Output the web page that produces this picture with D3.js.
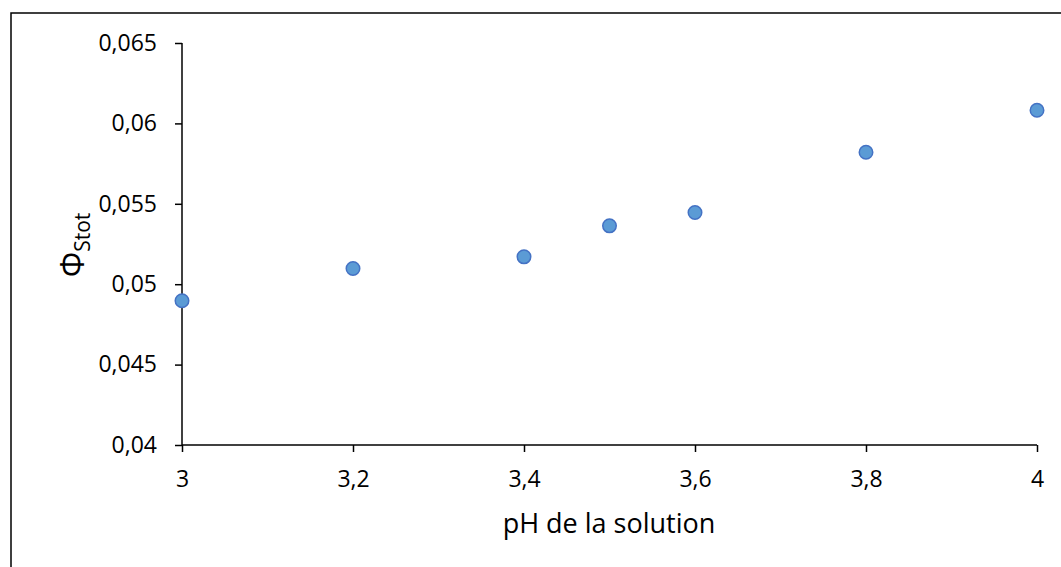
<!DOCTYPE html>
<html><head><meta charset="utf-8">
<script src="https://cdn.jsdelivr.net/npm/d3@7"></script>
<style>body{margin:0;background:#fff}svg{display:block}text{font-family:"Open Sans","Noto Sans",sans-serif}</style>
</head><body>
<svg id="c" width="1061" height="567"></svg>
<script>
const phValues = [3, 3.2, 3.4, 3.5, 3.6, 3.8, 4];
const phiValues = [0.04897, 0.05098, 0.0517, 0.05363, 0.05446, 0.05821, 0.06082];
const xTicks = [3, 3.2, 3.4, 3.6, 3.8, 4];
const yTicks = [0.04, 0.045, 0.05, 0.055, 0.06, 0.065];
const xTitle = "pH de la solution";
const yTitleMain = "Φ";
const yTitleSub = "Stot";

const svg = d3.select("#c");
svg.append("rect").attr("x", 11).attr("y", 13).attr("width", 1070).attr("height", 580)
  .attr("fill", "#fff").attr("stroke", "#000").attr("stroke-width", 1.5);

const x = d3.scaleLinear().domain([3, 4]).range([182, 1037]);
const y = d3.scaleLinear().domain([0.04, 0.065]).range([445, 43]);
const fmt = d => String(+d.toFixed(4)).replace(".", ",");

const xa = svg.append("g").attr("transform", "translate(0,445)")
  .call(d3.axisBottom(x).tickValues(xTicks).tickSize(7).tickPadding(19).tickFormat(fmt));
const ya = svg.append("g").attr("transform", "translate(182,0)")
  .call(d3.axisLeft(y).tickValues(yTicks).tickSize(7).tickPadding(18).tickFormat(fmt));
[xa, ya].forEach(a => {
  a.selectAll("path,line").attr("stroke", "#000").attr("stroke-width", 1.5);
  a.selectAll("text").attr("fill", "#000").style("font-size", "23px")
   .style("font-family", "'Open Sans','Noto Sans',sans-serif");
});
xa.select(".domain").attr("d", "M182,0H1037");
ya.select(".domain").attr("d", "M0,43V445");

svg.append("g").selectAll("circle").data(phValues).join("circle")
  .attr("cx", d => x(d)).attr("cy", (d, i) => y(phiValues[i])).attr("r", 6.75)
  .attr("fill", "#5B9BD5").attr("stroke", "#4472C4").attr("stroke-width", 1.5);

svg.append("text").attr("x", 609).attr("y", 533).attr("text-anchor", "middle")
  .style("font-size", "27px").attr("fill", "#000").text(xTitle);

const yt = svg.append("text").attr("transform", "translate(84,245) rotate(-90)")
  .attr("text-anchor", "middle").attr("fill", "#000");
yt.append("tspan").style("font-size", "32px").text(yTitleMain);
yt.append("tspan").attr("dy", 6).style("font-size", "21px").text(yTitleSub);
</script>
</body></html>
